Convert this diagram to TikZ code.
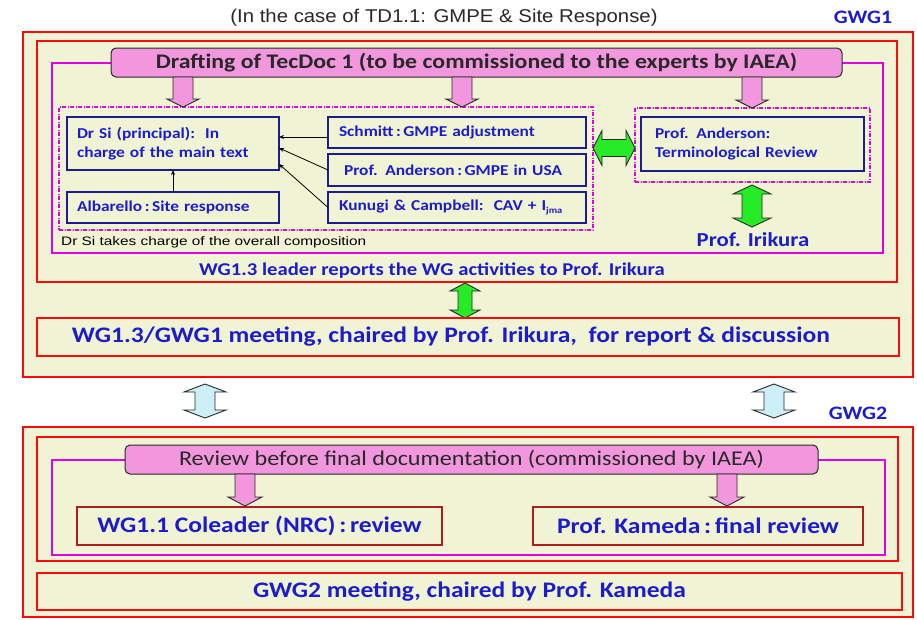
\documentclass[tikz,border=0pt]{standalone}
\usepackage{fontspec}
\setmainfont{Carlito}[FakeStretch=1.15]
\newfontfamily\arialfont[FakeStretch=1.25]{Liberation Sans}
\newfontfamily\arialwide[FakeStretch=1.1]{Liberation Sans}
\usetikzlibrary{arrows.meta,calc}

\definecolor{panel}{RGB}{240,244,212}
\definecolor{frame}{RGB}{250,10,10}
\definecolor{lilac}{RGB}{225,0,225}
\definecolor{pinkfill}{RGB}{242,150,222}
\definecolor{navy}{RGB}{28,28,140}
\definecolor{bluetext}{RGB}{28,28,205}
\definecolor{darkred}{RGB}{175,30,30}
\definecolor{greenfill}{RGB}{40,235,40}
\definecolor{icefill}{RGB}{205,240,248}
\definecolor{inkgray}{RGB}{40,40,40}

% block arrows: style, x, y top, y tip, shaft half width, head half width, head length
\newcommand\blockdown[7]{\draw[#1] (#2-#5,#3) -- (#2-#5,#4-#7) -- (#2-#6,#4-#7) -- (#2,#4) -- (#2+#6,#4-#7) -- (#2+#5,#4-#7) -- (#2+#5,#3) -- cycle;}
\newcommand\blockvert[7]{\draw[#1] (#2,#3) -- (#2+#6,#3+#7) -- (#2+#5,#3+#7) -- (#2+#5,#4-#7) -- (#2+#6,#4-#7) -- (#2,#4) -- (#2-#6,#4-#7) -- (#2-#5,#4-#7) -- (#2-#5,#3+#7) -- (#2-#6,#3+#7) -- cycle;}
% horizontal double arrow: style, y, x left, x right, shaft half, head half, head length
\newcommand\blockhorz[7]{\draw[#1] (#3,#2) -- (#3+#7,#2-#6) -- (#3+#7,#2-#5) -- (#4-#7,#2-#5) -- (#4-#7,#2-#6) -- (#4,#2) -- (#4-#7,#2+#6) -- (#4-#7,#2+#5) -- (#3+#7,#2+#5) -- (#3+#7,#2+#6) -- cycle;}

\tikzset{
  box/.style={rectangle, inner sep=0pt, outer sep=0pt},
  outerframe/.style={box, draw=frame, line width=2.6pt, fill=panel},
  innerframe/.style={box, draw=frame, line width=1.6pt, fill=panel},
  lilacframe/.style={box, draw=lilac, line width=1.8pt},
  dashframe/.style={box, draw=lilac, line width=1.3pt, dash pattern=on 4pt off 1.5pt on 1pt off 1.5pt},
  titlebox/.style={box, draw=inkgray, line width=1pt, fill=pinkfill, rounded corners=5pt, text=inkgray},
  bluebox/.style={box, draw=navy, line width=1.6pt, fill=panel, text=bluetext, font=\bfseries\fontsize{15.1}{17.5}\selectfont, align=left},
  redbox/.style={box, draw=darkred, line width=1.6pt, fill=panel, text=bluetext, font=\bfseries\fontsize{22.2}{26}\selectfont},
  meetbox/.style={box, draw=frame, line width=1.6pt, fill=panel},
  bluelabel/.style={text=bluetext, font=\bfseries\fontsize{#1}{#1}\selectfont, inner sep=0pt},
  conn/.style={draw=black, line width=0.8pt, -{Stealth[length=5pt,width=4pt]}},
  pinkarr/.style={draw=inkgray, line width=0.9pt, fill=pinkfill},
  greenarr/.style={draw=inkgray, line width=0.9pt, fill=greenfill},
  icearr/.style={draw=inkgray, line width=0.9pt, fill=icefill},
}

\begin{document}
\begin{tikzpicture}[x=1pt, y=-1pt]
\useasboundingbox (0,0) rectangle (917,619);
\fill[white] (0,0) rectangle (917,619);

% heading and group labels
\node[text=inkgray, font=\arialwide\fontsize{18.5}{20}\selectfont, inner sep=0pt] (heading) at (444,18) {(In the case of TD1.1: GMPE \& Site Response)};
\node[bluelabel=19] (gwgone) at (863,17) {GWG1};
\node[bluelabel=19] (gwgtwo) at (858,413) {GWG2};

% ---------------- GWG1 ----------------
\node[outerframe, minimum width=890, minimum height=345] (outer1) at (468,204.5) {};
\node[innerframe, minimum width=860, minimum height=241] (inner1) at (467,161.5) {};
\node[lilacframe, minimum width=831, minimum height=190] (lilac1) at (467.5,158) {};
\node[titlebox, minimum width=731, minimum height=29, font=\bfseries\fontsize{20.7}{22}\selectfont] (drafting) at (476.5,62.5) {Drafting of TecDoc 1 (to be commissioned to the experts by IAEA)};

\node[dashframe, minimum width=534, minimum height=123] (leftgroup) at (326,168.5) {};
\node[dashframe, minimum width=235, minimum height=74] (rightgroup) at (752.5,145) {};

\node[bluebox, text width=192, inner xsep=10, minimum height=53] (drsi) at (173,143.5) {Dr Si (principal):\ \ In\\[1pt]charge of the main text};
\node[bluebox, text width=192, inner xsep=10, minimum height=31] (albarello) at (173,207.5) {Albarello\,:\,Site response};
\node[bluebox, text width=236, inner xsep=11, minimum height=31] (schmitt) at (457,132.5) {Schmitt\,:\,GMPE adjustment};
\node[bluebox, text width=236, inner xsep=11, minimum height=32] (anderson) at (457,170) {\ Prof. Anderson\,:\,GMPE in USA};
\node[bluebox, text width=236, inner xsep=11, minimum height=31] (kunugi) at (457,207.5) {Kunugi \& Campbell:\ \ CAV + I\textsubscript{\fontsize{9}{9}\selectfont jma}};
\node[bluebox, text width=195, inner xsep=14, minimum height=54] (terminology) at (752.5,144) {Prof. Anderson:\\[1pt]Terminological Review};

\node[text=black, font=\arialfont\fontsize{12.3}{14}\selectfont, anchor=west, inner sep=0pt] (composition) at (61,242) {Dr Si takes charge of the overall composition};
\node[bluelabel=19.8] (irikura) at (753,240) {Prof. Irikura};
\node[bluelabel=18] (leader) at (432,271) {WG1.3 leader reports the WG activities to Prof. Irikura};

% thin arrows into the principal author's box
\draw[conn] (schmitt.west |- 0,137) -- (drsi.east |- 0,137);
\draw[conn] (anderson.west) -- ($(drsi.east)+(0,4.5)$);
\draw[conn] (kunugi.west) -- ($(drsi.east)+(0,20.5)$);
\draw[conn] (albarello.north) -- (drsi.south);

% block arrows of the drafting stage
\blockdown{pinkarr}{183}{77}{107}{10}{16}{8}
\blockdown{pinkarr}{462}{77}{107}{10}{16}{8}
\blockdown{pinkarr}{752}{77}{108}{10}{16}{8}
\blockhorz{greenarr}{148}{593}{635}{8.5}{17.5}{9}
\blockvert{greenarr}{752}{185}{227}{10}{19}{9}
\blockvert{greenarr}{465}{283}{318}{7}{15}{8}

\node[meetbox, minimum width=862, minimum height=38] (meeting1) at (468,337) {};
\node[bluelabel=22.2] (meeting1text) at ($(meeting1)+(-17,0)$) {WG1.3/GWG1 meeting, chaired by Prof. Irikura,\ \ for report \& discussion};

% links between the two groups
\blockvert{icearr}{205}{384}{418}{10}{21}{8}
\blockvert{icearr}{774}{384}{418}{10}{21}{8}

% ---------------- GWG2 ----------------
\node[outerframe, minimum width=890, minimum height=190] (outer2) at (468,522) {};
\node[innerframe, minimum width=861, minimum height=124] (inner2) at (467.5,499) {};
\node[lilacframe, minimum width=833, minimum height=95] (lilac2) at (468.5,507.5) {};
\node[titlebox, minimum width=693, minimum height=29, font=\fontsize{21}{22}\selectfont] (review) at (471.5,459.5) {Review before final documentation (commissioned by IAEA)};

\blockdown{pinkarr}{245}{474}{506}{10}{17}{9}
\blockdown{pinkarr}{727}{474}{506}{10}{17}{9}

\node[redbox, minimum width=365, minimum height=38] (coleader) at (259.5,526) {WG1.1 Coleader (NRC)\,:\,review};
\node[redbox, minimum width=330, minimum height=38] (kameda) at (698,526) {Prof. Kameda\,:\,final review};

\node[meetbox, minimum width=865, minimum height=37, text=bluetext, font=\bfseries\fontsize{22.2}{26}\selectfont] (meeting2) at (469.5,591.5) {GWG2 meeting, chaired by Prof. Kameda};
\end{tikzpicture}
\end{document}
